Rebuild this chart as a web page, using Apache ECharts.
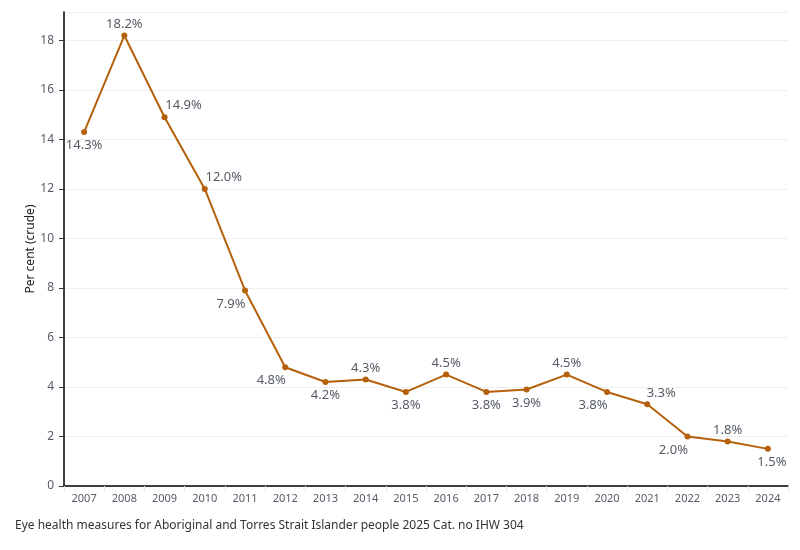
<!DOCTYPE html>
<html lang="en">
<head>
    <meta charset="UTF-8">
    <title>Per cent (crude)</title>
    <script src="https://cdn.jsdelivr.net/npm/echarts@6/dist/echarts.min.js"></script>
    <style>
        * {
            margin: 0;
            padding: 0;
        }

        body {
            background: #ffffff;
            width: 800px;
            height: 550px;
        }

        #chart-container {
            width: 800px;
            height: 550px;
        }
    </style>
</head>
<body>
<div id="chart-container"></div>

<script>
    // 数据
    const years = ['2007', '2008', '2009', '2010', '2011', '2012', '2013', '2014', '2015',
        '2016', '2017', '2018', '2019', '2020', '2021', '2022', '2023', '2024'];
    const percents = [14.3, 18.2, 14.9, 12.0, 7.9, 4.8, 4.2, 4.3, 3.8,
        4.5, 3.8, 3.9, 4.5, 3.8, 3.3, 2.0, 1.8, 1.5];
    const yTicks = [0, 2, 4, 6, 8, 10, 12, 14, 16, 18];

    // label placement per point (above / below, horizontal nudge)
    const labelSide = ['bottom', 'top', 'top', 'top', 'bottom', 'bottom', 'bottom', 'top', 'bottom',
        'top', 'bottom', 'bottom', 'top', 'bottom', 'top', 'bottom', 'top', 'bottom'];
    const labelNudge = [0, 0, 19, 19, -14, -14, 0, 0, 0,
        0, 0, 0, 0, -14, 14, -14, 0, 4];

    const lineColor = '#b5600b';
    const textColor = '#555b66';
    const fontName = '"Noto Sans", "Open Sans", Arial, sans-serif';

    let chartDom = document.getElementById('chart-container');
    let myChart = echarts.init(chartDom);

    let option = {
        animation: false,
        grid: {
            left: 64,
            right: 12,
            top: 12,
            bottom: 64
        },
        graphic: [{
            type: 'text',
            left: 15,
            top: 520,
            style: {
                text: 'Eye health measures for Aboriginal and Torres Strait Islander people 2025 Cat. no IHW 304',
                fill: '#333333',
                font: '12px ' + fontName
            }
        }],
        xAxis: {
            type: 'category',
            data: years,
            axisLine: {lineStyle: {color: '#000000', width: 1.5}},
            axisTick: {show: true, length: 6, lineStyle: {color: '#e4e4e4'}},
            axisLabel: {
                color: textColor,
                fontSize: 11,
                fontFamily: fontName,
                margin: 7
            }
        },
        yAxis: {
            type: 'value',
            min: 0,
            max: 19.15,
            interval: 2,
            name: 'Per cent (crude)',
            nameLocation: 'middle',
            nameGap: 27,
            nameRotate: 90,
            nameMoveOverlap: false,
            nameTextStyle: {color: '#222222', fontSize: 12, fontFamily: fontName},
            axisLine: {show: true, lineStyle: {color: '#000000', width: 1.5}},
            axisTick: {show: true, length: 5, lineStyle: {color: '#333333'}},
            axisLabel: {
                color: textColor,
                fontSize: 12,
                fontFamily: fontName,
                margin: 10,
                showMaxLabel: false,
                formatter: function (v) {
                    return yTicks.indexOf(v) >= 0 ? String(v) : '';
                }
            },
            splitLine: {lineStyle: {color: '#efefef'}}
        },
        series: [{
            type: 'line',
            data: percents.map(function (v, i) {
                return {
                    value: v,
                    label: {
                        position: labelSide[i],
                        distance: labelSide[i] === 'top' ? 2 : 4,
                        offset: [labelNudge[i], 0]
                    }
                };
            }),
            color: lineColor,
            lineStyle: {width: 2, color: lineColor},
            symbol: 'circle',
            symbolSize: 6,
            itemStyle: {color: lineColor},
            label: {
                show: true,
                color: textColor,
                fontSize: 13,
                fontFamily: fontName,
                formatter: function (p) {
                    return p.value.toFixed(1) + '%';
                }
            }
        }]
    };

    option && myChart.setOption(option);
</script>
</body>
</html>
